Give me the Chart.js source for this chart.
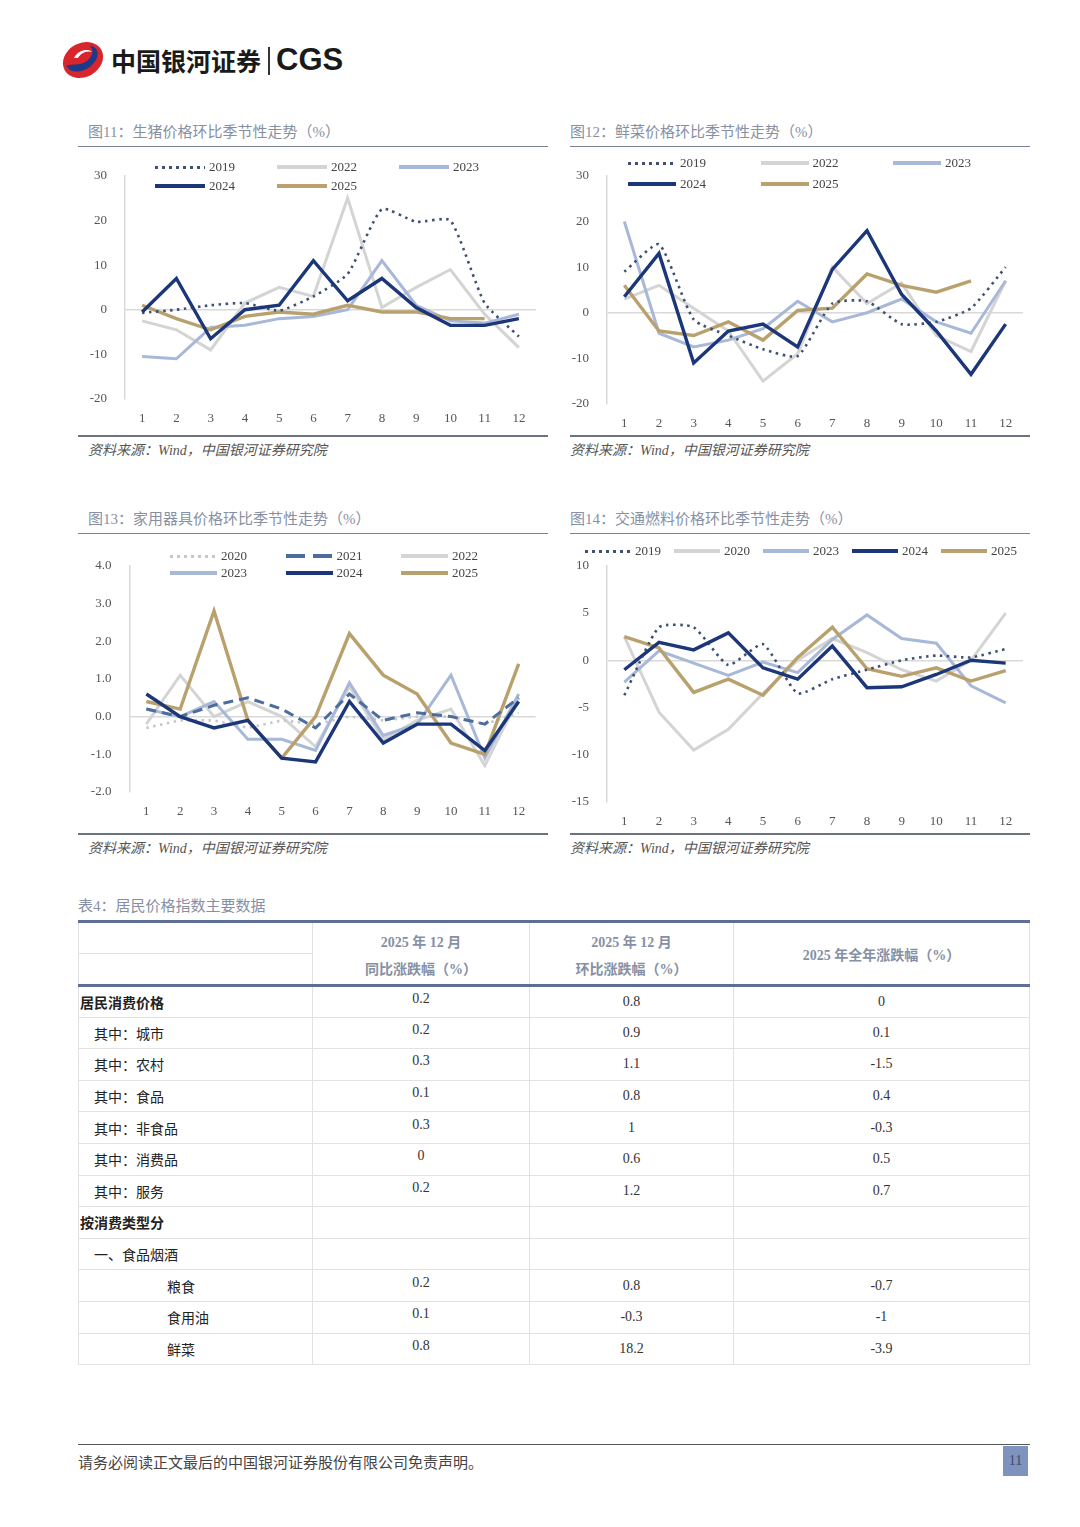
<!DOCTYPE html>
<html>
<head>
<meta charset="utf-8">
<script src="https://cdn.jsdelivr.net/npm/chart.js@4"></script>
<style>
  body { margin: 0; background: #fff; }
  #page { position: relative; width: 1080px; height: 1527px; overflow: hidden; background: #fff;
          font-family: "Liberation Serif", "Noto Sans CJK SC", serif; }
  .abs { position: absolute; }
  .title { font-family: "Liberation Serif", "Noto Sans CJK SC"; font-size: 15px; color: #8790a3; line-height: 20px; white-space: nowrap; }
  .rule { position: absolute; height: 0; }
  .src { font-family: "Liberation Serif", "Noto Sans CJK SC"; font-size: 14px; font-style: italic; color: #555; line-height: 20px; white-space: nowrap; }
  .leg { position: absolute; font-family: "Liberation Serif"; font-size: 13px; color: #444; white-space: nowrap; line-height: 16px; }
  .sw { position: absolute; height: 4px; }
  table { border-collapse: collapse; table-layout: fixed; }
  td { border: 1px solid #e2e2e2; padding: 0; font-size: 14px; color: #222; white-space: nowrap; }
  td.v { text-align: center; font-family: "Liberation Serif"; color: #333; }
  th { font-family: "Liberation Serif", "Noto Sans CJK SC"; font-weight: bold; font-size: 14px; color: #8690a5; text-align: center; padding: 0; border-left: 1px solid #e2e2e2; border-right: 1px solid #e2e2e2; }
</style>
</head>
<body>
<div id="page">
  <!-- logo -->
  <svg class="abs" style="left:60px;top:40px" width="46" height="40" viewBox="0 0 46 40">
    <ellipse cx="23" cy="20" rx="21" ry="17" transform="rotate(-30 23 20)" fill="#d9252b"/>
    <path d="M10 30 C 18 34, 30 30, 36 20 C 40 12, 36 6, 30 6 C 36 12, 30 22, 20 24 C 14 25, 10 24, 6 26 Z" fill="#1c3a8a"/>
    <path d="M14 18 C 18 10, 28 8, 32 12 C 26 10, 20 14, 18 18 Z" fill="#fff"/>
  </svg>
  <div class="abs" style="left:111px;top:43px;font-family:'Noto Sans CJK SC';font-weight:bold;font-size:25px;line-height:34px;color:#1a1a1a">中国银河证券</div>
  <div class="abs" style="left:268px;top:47px;width:2px;height:28px;background:#333"></div>
  <div class="abs" style="left:276px;top:41px;font-family:'Liberation Sans';font-weight:bold;font-size:31px;line-height:38px;color:#1a1a1a">CGS</div>

  <!-- chart frames -->
  <div class="abs title" style="left:88px;top:122px">图11：生猪价格环比季节性走势（%）</div>
  <div class="abs title" style="left:570px;top:122px">图12：鲜菜价格环比季节性走势（%）</div>
  <div class="rule" style="left:78px;top:146px;width:470px;border-top:1.5px solid #7b8496"></div>
  <div class="rule" style="left:570px;top:146px;width:460px;border-top:1.5px solid #7b8496"></div>
  <div class="rule" style="left:78px;top:435px;width:470px;border-top:2px solid #6d7280"></div>
  <div class="rule" style="left:570px;top:435px;width:460px;border-top:2px solid #6d7280"></div>
  <div class="abs src" style="left:88px;top:441px">资料来源：Wind，中国银河证券研究院</div>
  <div class="abs src" style="left:570px;top:441px">资料来源：Wind，中国银河证券研究院</div>

  <div class="abs title" style="left:88px;top:509px">图13：家用器具价格环比季节性走势（%）</div>
  <div class="abs title" style="left:570px;top:509px">图14：交通燃料价格环比季节性走势（%）</div>
  <div class="rule" style="left:78px;top:533px;width:470px;border-top:1.5px solid #7b8496"></div>
  <div class="rule" style="left:570px;top:533px;width:460px;border-top:1.5px solid #7b8496"></div>
  <div class="rule" style="left:78px;top:833px;width:470px;border-top:2px solid #6d7280"></div>
  <div class="rule" style="left:570px;top:833px;width:460px;border-top:2px solid #6d7280"></div>
  <div class="abs src" style="left:88px;top:839px">资料来源：Wind，中国银河证券研究院</div>
  <div class="abs src" style="left:570px;top:839px">资料来源：Wind，中国银河证券研究院</div>

  <canvas id="c1" class="abs" style="left:78px;top:150px" width="470" height="279"></canvas>
  <canvas id="c2" class="abs" style="left:565px;top:150px" width="470" height="284"></canvas>
  <canvas id="c3" class="abs" style="left:78px;top:540px" width="470" height="282"></canvas>
  <canvas id="c4" class="abs" style="left:565px;top:540px" width="470" height="292"></canvas>

  <!-- table -->
  <div class="abs title" style="left:78px;top:896px">表4：居民价格指数主要数据</div>
  <table id="tbl" class="abs" style="left:78px;top:920px;width:951px"></table>

  <!-- footer -->
  <div class="rule" style="left:78px;top:1444px;width:952px;border-top:1.5px solid #555"></div>
  <div class="abs" style="left:78px;top:1452px;font-family:'Noto Sans CJK SC';font-size:15px;color:#444;line-height:20px">请务必阅读正文最后的中国银河证券股份有限公司免责声明。</div>
  <div class="abs" style="left:1003px;top:1446px;width:25px;height:30px;background:#7f93bf;color:#3c4b6e;font-size:14px;line-height:30px;text-align:center">11</div>
</div>

<script>
const months = ["1", "2", "3", "4", "5", "6", "7", "8", "9", "10", "11", "12"];

// 图11 生猪
const pig2019 = [-0.7, 0, 1, 1.5, -0.2, 3, 8, 22.5, 19.7, 20, 1.5, -6];
const pig2022 = [-2.5, -4.5, -9, 1.5, 5, 3, 25, 0.5, 5, 9, -1, -8.5];
const pig2023 = [-10.5, -11, -4, -3.5, -2, -1.5, 0, 11, 1, -2.5, -3, -1];
const pig2024 = [-0.5, 7, -6.5, 0, 1, 11, 2, 7, 0.5, -3.5, -3.5, -2];
const pig2025 = [1, -2, -4.5, -1.5, -0.5, -1, 1, -0.5, -0.5, -2, -2];

// 图12 鲜菜
const veg2019 = [9, 15, -1.5, -5, -8, -9.5, 2, 2.5, -2.5, -2, 1, 10];
const veg2022 = [3, 6, 1, -4, -15, -9, 10, 2, 6.5, -5, -8.5, 7];
const veg2023 = [20, -4.5, -7.5, -6, -3.5, 2.5, -2, 0, 3, -2, -4.5, 7];
const veg2024 = [3.5, 13, -11, -4, -2.5, -7.5, 9.5, 18, 4, -4, -13.5, -2.5];
const veg2025 = [6, -4, -5, -2, -6, 0.5, 1, 8.5, 6, 4.5, 7];

// 图13 家用器具
const app2020 = [-0.3, -0.1, -0.1, -0.3, -0.1, -0.2, 0, -0.1, 0, 0, -0.2, 0.1];
const app2021 = [0.2, 0, 0.3, 0.5, 0.2, -0.3, 0.6, -0.1, 0.1, 0, -0.2, 0.5];
const app2022 = [-0.2, 1.1, 0, 0.4, 0, -0.8, 0.8, -0.6, -0.1, 0.2, -1.3, 0.5];
const app2023 = [0.2, 0, 0.4, -0.6, -0.6, -0.9, 0.9, -0.5, -0.2, 1.1, -1.1, 0.6];
const app2024 = [0.6, 0, -0.3, -0.1, -1.1, -1.2, 0.4, -0.7, -0.2, -0.2, -0.9, 0.4];
const app2025 = [0.4, 0.2, 2.8, -0.1, -1.1, 0, 2.2, 1.1, 0.6, -0.7, -1.0, 1.4];

// 图14 交通燃料
const fuel2019 = [-3.7, 3.5, 3.5, -0.5, 1.7, -3.5, -2, -1, 0, 0.5, 0.3, 1.2];
const fuel2020 = [2.5, -5.5, -9.5, -7.3, -3.5, 0, 2.3, 0.8, -1, -2.2, 0, 5];
const fuel2023 = [-2.3, 1, -0.3, -1.6, -0.2, -1.3, 2.2, 4.8, 2.3, 1.8, -2.7, -4.5];
const fuel2024 = [-1, 1.9, 1.1, 2.9, -0.8, -2, 1.5, -2.9, -2.8, -1.5, 0, -0.3];
const fuel2025 = [2.5, 1.3, -3.4, -2, -3.7, 0.3, 3.5, -0.9, -1.7, -0.8, -2.2, -1.1];

// 表4
const rowLabels = ["居民消费价格", "其中：城市", "其中：农村", "其中：食品", "其中：非食品", "其中：消费品",
  "其中：服务", "按消费类型分", "一、食品烟酒", "粮食", "食用油", "鲜菜"];
const rowIndent = [0, 1, 1, 1, 1, 1, 1, 0, 1, 2, 2, 2];
const yoyDec = ["0.2", "0.2", "0.3", "0.1", "0.3", "0", "0.2", "", "", "0.2", "0.1", "0.8"];
const momDec = ["0.8", "0.9", "1.1", "0.8", "1", "0.6", "1.2", "", "", "0.8", "-0.3", "18.2"];
const fullYear = ["0", "0.1", "-1.5", "0.4", "-0.3", "0.5", "0.7", "", "", "-0.7", "-1", "-3.9"];

// line styles
const styles = {
  dot19: { color: "#3e5173", width: 2.6, dash: [2.5, 4.5], kind: "dot", order: 2, tension: 0.18 },
  dot20: { color: "#c3c7cf", width: 2.6, dash: [2.5, 4.5], kind: "dot", order: 6, tension: 0 },
  dash21: { color: "#4d6d9c", width: 3, dash: [10, 6], kind: "dash", order: 3, tension: 0 },
  grey: { color: "#d4d4d4", width: 3, kind: "solid", order: 7, tension: 0 },
  lblue: { color: "#a8b8d8", width: 3, kind: "solid", order: 5, tension: 0 },
  navy: { color: "#1c3779", width: 3.4, kind: "solid", order: 1, tension: 0 },
  tan: { color: "#b9a16e", width: 3.4, kind: "solid", order: 4, tension: 0 }
};

function legend(chartLeft, chartTop, spec, items) {
  const page = document.getElementById("page");
  items.forEach((it, i) => {
    const col = i % spec.cols, row = Math.floor(i / spec.cols);
    const x = spec.x + col * spec.colW, y = spec.y + row * spec.rowH;
    const st = styles[it[1]];
    const sw = document.createElement("div");
    sw.className = "sw";
    sw.style.left = x + "px";
    sw.style.top = (y - 2) + "px";
    sw.style.width = spec.swW + "px";
    if (st.kind === "dot") {
      sw.style.height = "3px";
      sw.style.top = (y - 1.5) + "px";
      sw.style.background = `repeating-linear-gradient(90deg, ${st.color} 0 3px, transparent 3px 7px)`;
    } else if (st.kind === "dash") {
      sw.style.background = `repeating-linear-gradient(90deg, ${st.color} 0 19px, transparent 19px 27px)`;
    } else {
      sw.style.background = st.color;
    }
    page.appendChild(sw);
    const t = document.createElement("div");
    t.className = "leg";
    t.textContent = it[0];
    t.style.left = (x + spec.swW + 4) + "px";
    t.style.top = (y - 8) + "px";
    page.appendChild(t);
  });
}

function makeChart(id, series, yMin, yMax, step, decimals, geo) {
  const datasets = series.map(s => {
    const st = styles[s[1]];
    return {
      label: s[0],
      data: s[2],
      borderColor: st.color,
      borderWidth: st.width,
      borderDash: st.dash || [],
      borderCapStyle: "butt",
      borderJoinStyle: "miter",
      tension: st.tension,
      pointRadius: 0,
      fill: false,
      order: st.order
    };
  });
  return new Chart(document.getElementById(id), {
    type: "line",
    data: { labels: months, datasets },
    options: {
      responsive: false,
      animation: false,
      layout: { padding: { top: geo.top, right: geo.right, left: 0, bottom: 0 } },
      plugins: { legend: { display: false }, tooltip: { enabled: false } },
      scales: {
        x: {
          offset: true,
          grid: { display: false, drawTicks: false },
          border: { display: false },
          ticks: { padding: 12, color: "#555", font: { family: "Liberation Serif", size: 13 }, maxRotation: 0, autoSkip: false },
          afterFit: sc => { sc.height = 30; }
        },
        y: {
          min: yMin, max: yMax,
          grid: {
            drawTicks: false,
            color: ctx => ctx.tick && ctx.tick.value === 0 ? "#d9d9d9" : "rgba(0,0,0,0)",
            lineWidth: 1.5
          },
          border: { display: true, color: "#d9d9d9", width: 1.5 },
          ticks: {
            stepSize: step, padding: 18, color: "#555",
            font: { family: "Liberation Serif", size: 13 },
            callback: v => v.toFixed(decimals)
          },
          afterFit: sc => { sc.width = geo.yw; }
        }
      }
    }
  });
}

makeChart("c1", [
  ["2019", "dot19", pig2019], ["2022", "grey", pig2022], ["2023", "lblue", pig2023],
  ["2024", "navy", pig2024], ["2025", "tan", pig2025]
], -20, 30, 10, 0, { top: 22.7, right: 12, yw: 47 });
legend(78, 150, { x: 155, y: 167, cols: 3, colW: 122, rowH: 19, swW: 50 },
  [["2019", "dot19"], ["2022", "grey"], ["2023", "lblue"], ["2024", "navy"], ["2025", "tan"]]);

makeChart("c2", [
  ["2019", "dot19", veg2019], ["2022", "grey", veg2022], ["2023", "lblue", veg2023],
  ["2024", "navy", veg2024], ["2025", "tan", veg2025]
], -20, 30, 10, 0, { top: 20, right: 12, yw: 42 });
legend(565, 150, { x: 628, y: 163, cols: 3, colW: 132.5, rowH: 21, swW: 48 },
  [["2019", "dot19"], ["2022", "grey"], ["2023", "lblue"], ["2024", "navy"], ["2025", "tan"]]);

makeChart("c3", [
  ["2020", "dot20", app2020], ["2021", "dash21", app2021], ["2022", "grey", app2022],
  ["2023", "lblue", app2023], ["2024", "navy", app2024], ["2025", "tan", app2025]
], -2, 4, 1, 1, { top: 23.3, right: 12.4, yw: 51.4 });
legend(78, 540, { x: 170, y: 556, cols: 3, colW: 115.5, rowH: 16.5, swW: 47 },
  [["2020", "dot20"], ["2021", "dash21"], ["2022", "grey"], ["2023", "lblue"], ["2024", "navy"], ["2025", "tan"]]);

makeChart("c4", [
  ["2019", "dot19", fuel2019], ["2020", "grey", fuel2020], ["2023", "lblue", fuel2023],
  ["2024", "navy", fuel2024], ["2025", "tan", fuel2025]
], -15, 10, 5, 0, { top: 15, right: 12, yw: 42 });
legend(565, 540, { x: 585, y: 551, cols: 5, colW: 89, rowH: 0, swW: 46 },
  [["2019", "dot19"], ["2020", "grey"], ["2023", "lblue"], ["2024", "navy"], ["2025", "tan"]]);

// table
const tbl = document.getElementById("tbl");
let html = `<colgroup><col style="width:234px"><col style="width:217px"><col style="width:204px"><col style="width:296px"></colgroup>`;
html += `<tr style="height:32px;border-top:3px solid #5d6f94">
  <td style="border-left:1px solid #e2e2e2;border-top:3px solid #5d6f94;border-bottom:1px solid #e2e2e2"></td>
  <th style="border-top:3px solid #5d6f94;vertical-align:bottom;padding-bottom:3px">2025 年 12 月</th>
  <th style="border-top:3px solid #5d6f94;vertical-align:bottom;padding-bottom:3px">2025 年 12 月</th>
  <th rowspan="2" style="border-top:3px solid #5d6f94;border-bottom:3px solid #5d6f94">2025 年全年涨跌幅（%）</th></tr>`;
html += `<tr style="height:32px">
  <td style="border-bottom:3px solid #5d6f94;border-top:none"></td>
  <th style="border-bottom:3px solid #5d6f94;vertical-align:top;padding-top:4px">同比涨跌幅（%）</th>
  <th style="border-bottom:3px solid #5d6f94;vertical-align:top;padding-top:4px">环比涨跌幅（%）</th></tr>`;
rowLabels.forEach((lab, i) => {
  const pad = [1, 15, 88][rowIndent[i]];
  const fw = rowIndent[i] === 0 ? "bold" : "normal";
  html += `<tr style="height:31.6px">
    <td style="padding-left:${pad}px;font-family:'Noto Sans CJK SC';font-weight:${fw}">${lab}</td>
    <td class="v" style="padding-bottom:6px">${yoyDec[i]}</td>
    <td class="v">${momDec[i]}</td>
    <td class="v">${fullYear[i]}</td></tr>`;
});
tbl.innerHTML = html;
</script>
</body>
</html>
